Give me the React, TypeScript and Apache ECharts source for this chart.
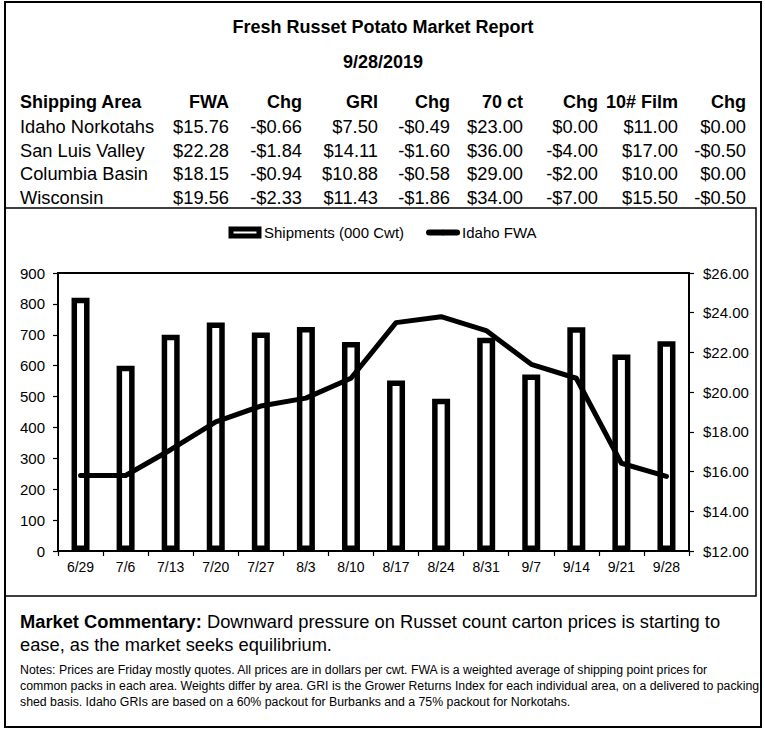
import React, { useEffect, useRef } from "react";
import * as echarts from "echarts";

// ---- data ----
const weeks = ["6/29", "7/6", "7/13", "7/20", "7/27", "8/3", "8/10", "8/17", "8/24", "8/31", "9/7", "9/14", "9/21", "9/28"];
const shipments = [820, 600, 700, 740, 707, 725, 677, 552, 493, 690, 571, 724, 636, 679];
const idahoFWA = [15.8, 15.8, 17.1, 18.5, 19.3, 19.7, 20.7, 23.5, 23.8, 23.1, 21.4, 20.7, 16.42, 15.76];

const tableHeader = ["Shipping Area", "FWA", "Chg", "GRI", "Chg", "70 ct", "Chg", "10# Film", "Chg"];
const areas = ["Idaho Norkotahs", "San Luis Valley", "Columbia Basin", "Wisconsin"];
const fwa = ["$15.76", "$22.28", "$18.15", "$19.56"];
const fwaChg = ["-$0.66", "-$1.84", "-$0.94", "-$2.33"];
const gri = ["$7.50", "$14.11", "$10.88", "$11.43"];
const griChg = ["-$0.49", "-$1.60", "-$0.58", "-$1.86"];
const ct70 = ["$23.00", "$36.00", "$29.00", "$34.00"];
const ct70Chg = ["$0.00", "-$4.00", "-$2.00", "-$7.00"];
const film10 = ["$11.00", "$17.00", "$10.00", "$15.50"];
const film10Chg = ["$0.00", "-$0.50", "$0.00", "-$0.50"];

const titleText = "Fresh Russet Potato Market Report";
const dateText = "9/28/2019";
const commentaryLabel = "Market Commentary:";
const commentaryLines = [
  " Downward pressure on Russet count carton prices is starting to",
  "ease, as the market seeks equilibrium.",
];
const notesLines = [
  "Notes: Prices are Friday mostly quotes. All prices are in dollars per cwt. FWA is a weighted average of shipping point prices for",
  "common packs in each area. Weights differ by area. GRI is the Grower Returns Index for each individual area, on a delivered to packing",
  "shed basis. Idaho GRIs are based on a 60% packout for Burbanks and a 75% packout for Norkotahs.",
];

const FONT = "'Liberation Sans', Arial, sans-serif";

export default function App() {
  const ref = useRef<HTMLDivElement>(null);

  useEffect(() => {
    document.body.style.margin = "0";
    if (!ref.current) return;
    const chart = echarts.init(ref.current, undefined, { renderer: "svg" });

    const colRight = [0, 229, 302, 378, 450, 523, 598, 678, 746];
    const rowY = [126, 150, 173, 197];
    const columns = [areas, fwa, fwaChg, gri, griChg, ct70, ct70Chg, film10, film10Chg];

    const graphics: any[] = [];
    // frames
    graphics.push({
      type: "rect",
      shape: { x: 5, y: 2, width: 756, height: 725 },
      style: { fill: "none", stroke: "#000", lineWidth: 2 },
      silent: true,
    });
    graphics.push({
      type: "rect",
      shape: { x: 5, y: 208, width: 751, height: 388 },
      style: { fill: "none", stroke: "#000", lineWidth: 1.5 },
      silent: true,
    });
    // title & date
    graphics.push({
      type: "text",
      x: 383,
      y: 27,
      style: { text: titleText, fontSize: 18, fontWeight: "bold", fontFamily: FONT, fill: "#000", align: "center", verticalAlign: "middle" },
    });
    graphics.push({
      type: "text",
      x: 383,
      y: 62,
      style: { text: dateText, fontSize: 18, fontWeight: "bold", fontFamily: FONT, fill: "#000", align: "center", verticalAlign: "middle" },
    });
    // table header
    tableHeader.forEach((h, i) => {
      graphics.push({
        type: "text",
        x: i === 0 ? 20 : colRight[i],
        y: 102,
        style: { text: h, fontSize: 18, fontWeight: "bold", fontFamily: FONT, fill: "#000", align: i === 0 ? "left" : "right", verticalAlign: "middle" },
      });
    });
    // table rows
    columns.forEach((col, i) => {
      col.forEach((v, r) => {
        graphics.push({
          type: "text",
          x: i === 0 ? 20 : colRight[i],
          y: rowY[r],
          style: { text: v, fontSize: 18.3, fontFamily: FONT, fill: "#000", align: i === 0 ? "left" : "right", verticalAlign: "middle" },
        });
      });
    });
    // commentary
    graphics.push({
      type: "text",
      x: 20,
      y: 610,
      style: {
        text: "{b|" + commentaryLabel + "}{n|" + commentaryLines[0] + "}\n{n|" + commentaryLines[1] + "}",
        fontSize: 18.3,
        fontFamily: FONT,
        fill: "#000",
        lineHeight: 23,
        rich: {
          b: { fontSize: 18.3, fontWeight: "bold", fontFamily: FONT, fill: "#000", lineHeight: 23 },
          n: { fontSize: 18.3, fontFamily: FONT, fill: "#000", lineHeight: 23 },
        },
      },
    });
    // notes
    graphics.push({
      type: "text",
      x: 20,
      y: 662,
      style: {
        text: notesLines.join("\n"),
        fontSize: 12.3,
        fontFamily: FONT,
        fill: "#000",
        lineHeight: 16,
      },
    });

    chart.setOption({
      animation: false,
      textStyle: { fontFamily: FONT, color: "#000" },
      legend: {
        top: 220,
        left: "center",
        itemGap: 22,
        itemWidth: 28,
        itemHeight: 7,
        textStyle: { fontSize: 15, color: "#000", fontFamily: FONT },
        data: [
          { name: "Shipments (000 Cwt)", icon: "rect", itemStyle: { color: "#fff", borderColor: "#000", borderWidth: 5 } },
          { name: "Idaho FWA", lineStyle: { width: 6, color: "#000" } },
        ],
      },
      grid: {
        left: 58,
        top: 273,
        right: 76,
        bottom: 183,
        show: true,
        borderColor: "#000",
        borderWidth: 2,
        backgroundColor: "transparent",
      },
      xAxis: {
        type: "category",
        data: weeks,
        axisLine: { lineStyle: { color: "#000", width: 2 } },
        axisTick: { show: true, length: 5, lineStyle: { color: "#000", width: 1.2 } },
        axisLabel: { color: "#000", fontSize: 14, margin: 9, interval: 0, fontFamily: FONT },
      },
      yAxis: [
        {
          type: "value",
          min: 0,
          max: 900,
          interval: 100,
          axisLine: { show: true, lineStyle: { color: "#000", width: 2 } },
          axisTick: { show: true, length: 5, lineStyle: { color: "#000", width: 1.2 } },
          axisLabel: { color: "#000", fontSize: 15, margin: 13, fontFamily: FONT },
          splitLine: { show: false },
        },
        {
          type: "value",
          min: 12,
          max: 26,
          interval: 2,
          position: "right",
          axisLine: { show: true, lineStyle: { color: "#000", width: 2 } },
          axisTick: { show: true, length: 5, lineStyle: { color: "#000", width: 1.2 } },
          axisLabel: { color: "#000", fontSize: 15, margin: 14, fontFamily: FONT, formatter: (v: number) => "$" + v.toFixed(2) },
          splitLine: { show: false },
        },
      ],
      series: [
        {
          name: "Shipments (000 Cwt)",
          type: "bar",
          data: shipments,
          barWidth: 18,
          itemStyle: { color: "#fff", borderColor: "#000", borderWidth: 5.5 },
        },
        {
          name: "Idaho FWA",
          type: "line",
          yAxisIndex: 1,
          data: idahoFWA,
          symbol: "none",
          lineStyle: { color: "#000", width: 5, cap: "round", join: "round" },
          itemStyle: { color: "#000" },
          z: 3,
        },
      ],
      graphic: graphics,
    });

    return () => chart.dispose();
  }, []);

  return <div ref={ref} style={{ width: 765, height: 734 }} />;
}
